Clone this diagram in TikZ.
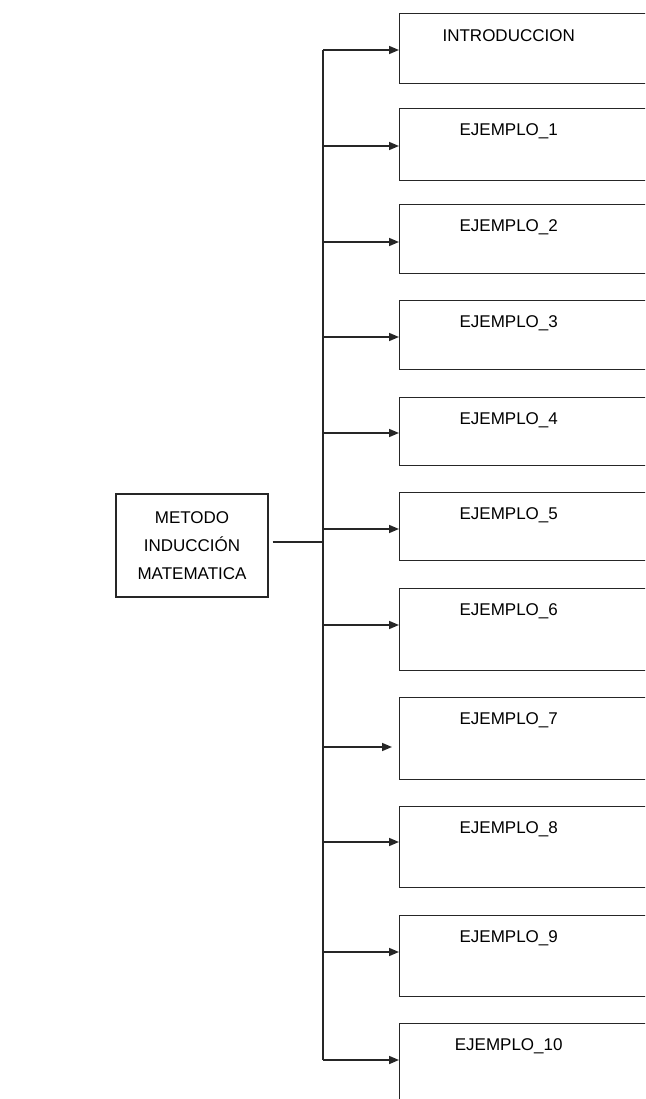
\documentclass[tikz,border=0pt]{standalone}
\usepackage{fontspec}
\setmainfont{Liberation Sans}
\usetikzlibrary{arrows.meta,positioning,calc}

\tikzset{
  link/.style={line width=1.6pt, draw=black!85},
  tip/.style={-{Triangle[length=10pt,width=8pt]}},
  mainbox/.style={draw=black!85, line width=1.4pt, minimum width=152pt, minimum height=103pt,
    align=center, font=\fontsize{17}{28}\selectfont},
  topicbox/.style={draw=black!85, line width=1.4pt, minimum width=254pt, anchor=north west},
  topictext/.style={font=\fontsize{17}{22}\selectfont}
}

\begin{document}
\begin{tikzpicture}[x=1pt,y=-1pt]
        \useasboundingbox (0,0) rectangle (645,1099);
        \clip (0,0) rectangle (645,1099);
        \node[mainbox] (metodo) at (192,545.5) {METODO\\INDUCCIÓN\\MATEMATICA};
        \coordinate (trunktop) at (323,50);
        \coordinate (trunkbot) at (323,1060);
        \coordinate (stub) at ([xshift=4pt,yshift=3.5pt]metodo.east);
        \draw[link] (trunktop) -- (trunkbot);
        \draw[link] (stub) -- (stub -| trunktop);
        \foreach \i/\name/\top/\ht/\ay/\gap in {0/INTRODUCCION/13/70/50/0,
            1/EJEMPLO\_1/108/72/146/0, 2/EJEMPLO\_2/204/69/242/0,
            3/EJEMPLO\_3/300/69/337/0, 4/EJEMPLO\_4/397/68/433/0,
            5/EJEMPLO\_5/492/68/529/0, 6/EJEMPLO\_6/588/82/625/0,
            7/EJEMPLO\_7/697/82/747/7, 8/EJEMPLO\_8/806/81/842/0,
            9/EJEMPLO\_9/915/81/952/0, 10/EJEMPLO\_10/1023/90/1060/0} {
          \node[topicbox, minimum height=\ht] (box\i) at (399,\top) {};
          \node[topictext] (txt\i) at ([xshift=-18pt,yshift=-29pt]box\i.north) {\name};
          \coordinate (tap\i) at (323,\ay);
          \draw[link,tip] (tap\i) -- ([xshift=-\gap pt]tap\i -| box\i.west);
        }
      \end{tikzpicture}
\end{document}
